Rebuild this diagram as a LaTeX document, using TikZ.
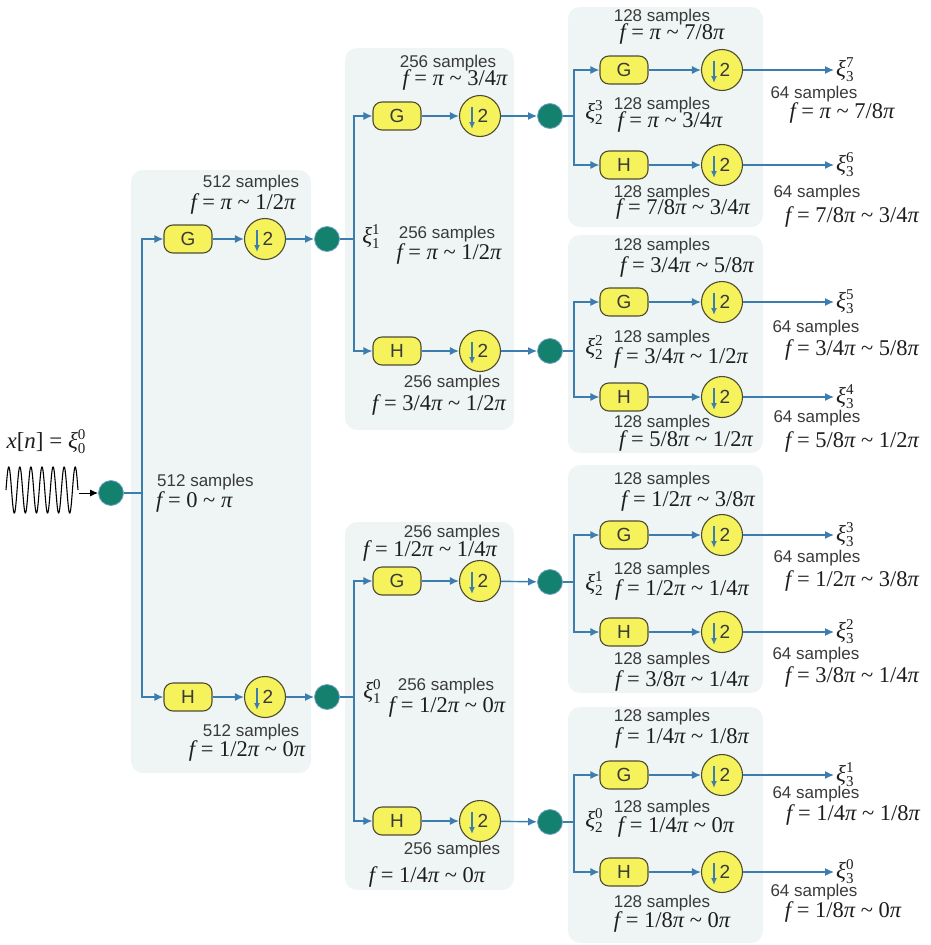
\documentclass[tikz,border=0pt]{standalone}
\usepackage{fontspec}
\setmainfont{Liberation Sans}
\newfontfamily\mf{Liberation Serif}
\usetikzlibrary{arrows.meta}
\definecolor{conncol}{HTML}{3A7DAE}
\definecolor{panelcol}{HTML}{EEF5F4}
\definecolor{boxfill}{HTML}{F6F25C}
\definecolor{boxline}{HTML}{4E4D33}
\definecolor{dotfill}{HTML}{14806E}
\definecolor{txtcol}{HTML}{3A3A3A}
\definecolor{mathcol}{HTML}{1E1E1E}
\newcommand{\pI}{{\itshape π}}
\newcommand{\tld}{ \textasciitilde{} }
\newcommand{\fq}[1]{{\mf {\itshape f} = #1}}
\newcommand{\xiL}[2]{{\mf{\itshape ξ}\rlap{\raisebox{-5pt}{\fontsize{15}{15}\selectfont #2}}\raisebox{9pt}{\fontsize{15}{15}\selectfont #1}}}
\newcommand{\filtrow}[5]{%
  \node[fbox] (#1f) at (#3,#5) {#2};
  \node[dsc] (#1d) at (#4,#5) {\kern6pt\raisebox{1pt}{2}};
  \draw[conn, line width=1.5pt, -{Latex[length=7pt,width=6pt]}] ([xshift=-8pt,yshift=9pt]#1d.center) -- ([xshift=-8pt,yshift=-13pt]#1d.center);
  \draw[arr] (#1f) -- (#1d);
}
\begin{document}
\begin{tikzpicture}[x=1pt,y=-1pt,
  fbox/.style={draw=boxline, fill=boxfill, line width=1.1pt, rounded corners=9pt, minimum width=48pt, minimum height=28pt, inner sep=0pt, font=\fontsize{19}{21}\selectfont, text=txtcol},
  dsc/.style={circle, draw=boxline, fill=boxfill, line width=1.1pt, minimum size=41pt, inner sep=0pt, font=\fontsize{19}{21}\selectfont, text=txtcol},
  dotn/.style={circle, fill=dotfill, draw=conncol!70, line width=0.8pt, minimum size=25pt, inner sep=0pt},
  conn/.style={draw=conncol, line width=1.4pt},
  arr/.style={conn, -{Latex[length=9pt,width=8pt]}},
  smp/.style={font=\fontsize{17}{19}\selectfont, text=txtcol, inner sep=0pt},
  frq/.style={font=\fontsize{22.5}{24}\selectfont, text=mathcol, inner sep=0pt},
  xil/.style={font=\fontsize{23}{25}\selectfont, text=mathcol, inner sep=0pt},
  panel/.style={fill=panelcol, rounded corners=12pt}]
\useasboundingbox (0,0) rectangle (931,945);
% panels
\fill[panel] (131,170) rectangle (311,773);
\fill[panel] (345,48) rectangle (514,430);
\fill[panel] (345,522) rectangle (514,890);
\fill[panel] (568,7) rectangle (763,227);
\fill[panel] (568,235) rectangle (763,453);
\fill[panel] (568,465) rectangle (763,693);
\fill[panel] (568,707) rectangle (763,943);
% input
\draw[black, line width=1.1pt] plot[domain=6:78, samples=400] (\x, {490 - 23*sin(32.5*(\x-6))});
\node[xil] (xn) at (46,442) {\mf{\itshape x}[{\itshape n}] = \xiL{0}{0}};
\node[dotn] (in0) at (111,493) {};
\coordinate (wend) at (79,493);
\draw[black, line width=1pt, -{Latex[length=8pt,width=7pt]}] (wend) -- (in0);
% level 1
\coordinate (v1) at (142,493);
\draw[conn] (in0) -- (v1);
\filtrow{aG}{G}{188}{265}{239}
\filtrow{aH}{H}{188}{265}{697}
\draw[arr] (v1) |- (aGf);
\draw[arr] (v1) |- (aHf);
\node[dotn] (daG) at (327,239) {};
\node[dotn] (daH) at (327,697) {};
\draw[arr] (aGd) -- (daG);
\draw[arr] (aHd) -- (daH);
% level 2
\coordinate (v2a) at (354,239);
\coordinate (v2b) at (354,697);
\draw[conn] (daG) -- (v2a);
\draw[conn] (daH) -- (v2b);
\filtrow{bG}{G}{397}{480}{116}
\filtrow{bH}{H}{397}{480}{351}
\filtrow{cG}{G}{397}{480}{581}
\filtrow{cH}{H}{397}{480}{821}
\draw[arr] (v2a) |- (bGf);
\draw[arr] (v2a) |- (bHf);
\draw[arr] (v2b) |- (cGf);
\draw[arr] (v2b) |- (cHf);
\node[dotn] (dbG) at (550,116) {};
\node[dotn] (dbH) at (550,351) {};
\node[dotn] (dcG) at (550,582) {};
\node[dotn] (dcH) at (550,822) {};
\draw[arr] (bGd) -- (dbG);
\draw[arr] (bHd) -- (dbH);
\draw[arr] (cGd) -- (dcG);
\draw[arr] (cHd) -- (dcH);
% level 3
\coordinate (v3a) at (574,116);
\coordinate (v3b) at (574,351);
\coordinate (v3c) at (574,582);
\coordinate (v3d) at (574,822);
\draw[conn] (dbG) -- (v3a);
\draw[conn] (dbH) -- (v3b);
\draw[conn] (dcG) -- (v3c);
\draw[conn] (dcH) -- (v3d);
\filtrow{p7}{G}{624}{722}{70}
\filtrow{p6}{H}{624}{722}{165}
\filtrow{p5}{G}{624}{722}{302}
\filtrow{p4}{H}{624}{722}{397}
\filtrow{p3}{G}{624}{722}{535}
\filtrow{p2}{H}{624}{722}{632}
\filtrow{p1}{G}{624}{722}{775}
\filtrow{p0}{H}{624}{722}{872}
\draw[arr] (v3a) |- (p7f);
\draw[arr] (v3a) |- (p6f);
\draw[arr] (v3b) |- (p5f);
\draw[arr] (v3b) |- (p4f);
\draw[arr] (v3c) |- (p3f);
\draw[arr] (v3c) |- (p2f);
\draw[arr] (v3d) |- (p1f);
\draw[arr] (v3d) |- (p0f);
\foreach \k/\yy in {7/70,6/165,5/302,4/397,3/535,2/632,1/775,0/872}{
  \coordinate (o\k) at (834,\yy);
  \draw[arr] (p\k d) -- (o\k);
  \node[xil, anchor=west] (xi3\k) at (836,\yy) {\xiL{\k}{3}};
}
% level 1 labels
\node[smp] (s1a) at (251,183) {512 samples};
\node[frq] (f1a) at (243,204) {\fq{\pI\tld 1/2\pI}};
\node[smp, anchor=west] (s1b) at (157,482) {512 samples};
\node[frq, anchor=west] (f1b) at (156,502) {\fq{0\tld\pI}};
\node[smp] (s1c) at (251,732) {512 samples};
\node[frq] (f1c) at (247,751) {\fq{1/2\pI\tld 0\pI}};
% level 2 labels
\node[smp] (s2a) at (448,63) {256 samples};
\node[frq] (f2a) at (455,80) {\fq{\pI\tld 3/4\pI}};
\node[xil] (xi11) at (371,237) {\xiL{1}{1}};
\node[smp] (s2b) at (447,234) {256 samples};
\node[frq] (f2b) at (449,254) {\fq{\pI\tld 1/2\pI}};
\node[smp] (s2c) at (452,383) {256 samples};
\node[frq] (f2c) at (439,405) {\fq{3/4\pI\tld 1/2\pI}};
\node[smp] (s2d) at (452,533) {256 samples};
\node[frq] (f2d) at (430,551) {\fq{1/2\pI\tld 1/4\pI}};
\node[xil] (xi10) at (372,692) {\xiL{0}{1}};
\node[smp] (s2e) at (446,686) {256 samples};
\node[frq] (f2e) at (447,707) {\fq{1/2\pI\tld 0\pI}};
\node[smp] (s2f) at (452,850) {256 samples};
\node[frq] (f2f) at (427,877) {\fq{1/4\pI\tld 0\pI}};
% level 3 labels, panel a
\node[smp] (s3a1) at (662,17) {128 samples};
\node[frq] (f3a1) at (672,34) {\fq{\pI\tld 7/8\pI}};
\node[xil] (xi23) at (594,113) {\xiL{3}{2}};
\node[smp] (s3a2) at (662,105) {128 samples};
\node[frq] (f3a2) at (670,122) {\fq{\pI\tld 3/4\pI}};
\node[smp] (s3a3) at (662,193) {128 samples};
\node[frq] (f3a3) at (683,209) {\fq{7/8\pI\tld 3/4\pI}};
% panel b
\node[smp] (s3b1) at (662,246) {128 samples};
\node[frq] (f3b1) at (687,267) {\fq{3/4\pI\tld 5/8\pI}};
\node[xil] (xi22) at (594,348) {\xiL{2}{2}};
\node[smp] (s3b2) at (662,338) {128 samples};
\node[frq] (f3b2) at (681,358) {\fq{3/4\pI\tld 1/2\pI}};
\node[smp] (s3b3) at (662,423) {128 samples};
\node[frq] (f3b3) at (686,441) {\fq{5/8\pI\tld 1/2\pI}};
% panel c
\node[smp] (s3c1) at (662,480) {128 samples};
\node[frq] (f3c1) at (688,501) {\fq{1/2\pI\tld 3/8\pI}};
\node[xil] (xi21) at (594,584) {\xiL{1}{2}};
\node[smp] (s3c2) at (662,570) {128 samples};
\node[frq] (f3c2) at (682,590) {\fq{1/2\pI\tld 1/4\pI}};
\node[smp] (s3c3) at (662,660) {128 samples};
\node[frq] (f3c3) at (682,681) {\fq{3/8\pI\tld 1/4\pI}};
% panel d
\node[smp] (s3d1) at (662,717) {128 samples};
\node[frq] (f3d1) at (682,738) {\fq{1/4\pI\tld 1/8\pI}};
\node[xil] (xi20) at (594,821) {\xiL{0}{2}};
\node[smp] (s3d2) at (662,808) {128 samples};
\node[frq] (f3d2) at (676,827) {\fq{1/4\pI\tld 0\pI}};
\node[smp] (s3d3) at (662,903) {128 samples};
\node[frq] (f3d3) at (672,922) {\fq{1/8\pI\tld 0\pI}};
% outputs
\node[smp] (o7s) at (814,94) {64 samples};
\node[frq] (o7f) at (842,113) {\fq{\pI\tld 7/8\pI}};
\node[smp] (o6s) at (817,193) {64 samples};
\node[frq] (o6f) at (852,217) {\fq{7/8\pI\tld 3/4\pI}};
\node[smp] (o5s) at (816,328) {64 samples};
\node[frq] (o5f) at (852,350) {\fq{3/4\pI\tld 5/8\pI}};
\node[smp] (o4s) at (817,418) {64 samples};
\node[frq] (o4f) at (852,442) {\fq{5/8\pI\tld 1/2\pI}};
\node[smp] (o3s) at (817,558) {64 samples};
\node[frq] (o3f) at (852,581) {\fq{1/2\pI\tld 3/8\pI}};
\node[smp] (o2s) at (816,655) {64 samples};
\node[frq] (o2f) at (852,677) {\fq{3/8\pI\tld 1/4\pI}};
\node[smp] (o1s) at (816,794) {64 samples};
\node[frq] (o1f) at (853,815) {\fq{1/4\pI\tld 1/8\pI}};
\node[smp] (o0s) at (814,892) {64 samples};
\node[frq] (o0f) at (843,912) {\fq{1/8\pI\tld 0\pI}};
\end{tikzpicture}
\end{document}
